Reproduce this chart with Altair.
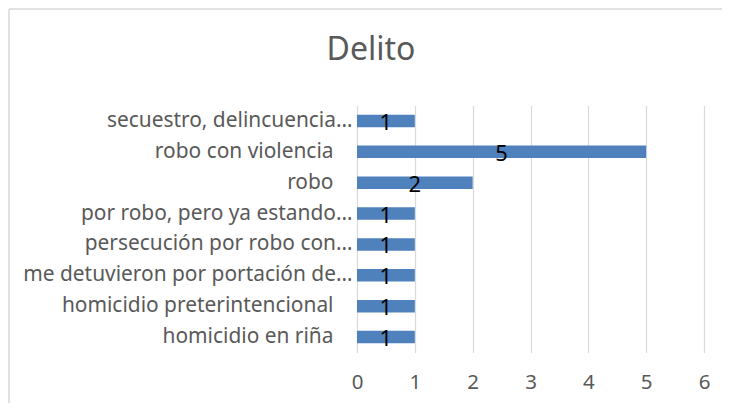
import altair as alt
import pandas as pd

title_text = "Delito"
categories = [
    "secuestro, delincuencia…",
    "robo con violencia",
    "robo",
    "por robo, pero ya estando…",
    "persecución por robo con…",
    "me detuvieron por portación de…",
    "homicidio preterintencional",
    "homicidio en riña",
]
values = [1, 5, 2, 1, 1, 1, 1, 1]
x_ticks = [0, 1, 2, 3, 4, 5, 6]

df = pd.DataFrame({"delito": categories, "n": values})

FONT = "Noto Sans"
GREY = "#595959"
FS = 20.9

y_enc = alt.Y(
    "delito:N",
    sort=None,
    axis=alt.Axis(
        title=None, labelFontSize=FS, labelColor=GREY, labelFont=FONT,
        labelLimit=0,
        labelPadding={"condition": {"test": "indexof(datum.value, '…') < 0", "value": 24}, "value": 5},
        ticks=False, domain=False, grid=False,
    ),
)
x_enc = alt.X(
    "n:Q",
    scale=alt.Scale(domain=[0, 6], nice=False),
    axis=alt.Axis(
        values=x_ticks, title=None, grid=True, gridColor="#d9d9d9", gridWidth=1.2,
        domain=False, ticks=False, labelFontSize=20.5, labelColor=GREY, labelFont=FONT,
        labelPadding=20, format="d", labelFlush=False,
    ),
)

bars = alt.Chart(df).mark_bar(size=12.5, color="#4f81bd").encode(x=x_enc, y=y_enc)

labels = (
    alt.Chart(df)
    .transform_calculate(mid="datum.n / 2")
    .mark_text(fontSize=22, font=FONT, color="black", baseline="middle", dy=2)
    .encode(x=alt.X("mid:Q"), y=alt.Y("delito:N", sort=None), text=alt.Text("n:Q"))
)

one = pd.DataFrame({"t": [title_text]})
title = alt.Chart(one).mark_text(
    fontSize=32, font=FONT, color=GREY, baseline="middle", align="center"
).encode(text="t:N", x=alt.value(14), y=alt.value(-55.5))

frame_left = alt.Chart(one).mark_rule(color="#d9d9d9", strokeWidth=1.5).encode(
    x=alt.value(-348), y=alt.value(-96.5), y2=alt.value(400)
)
frame_top = alt.Chart(one).mark_rule(color="#d9d9d9", strokeWidth=1.5).encode(
    y=alt.value(-96.5), x=alt.value(-348), x2=alt.value(400)
)

chart = (
    alt.layer(frame_left, frame_top, bars, labels, title)
    .properties(
        width=347,
        height=247,
        autosize=alt.AutoSizeParams(type="none"),
        padding={"left": 349, "top": 97.5, "right": 18, "bottom": 50},
        background="white",
    )
    .configure_view(stroke=None)
)

chart.save("out.html", embed_options={"renderer": "svg", "actions": False})
